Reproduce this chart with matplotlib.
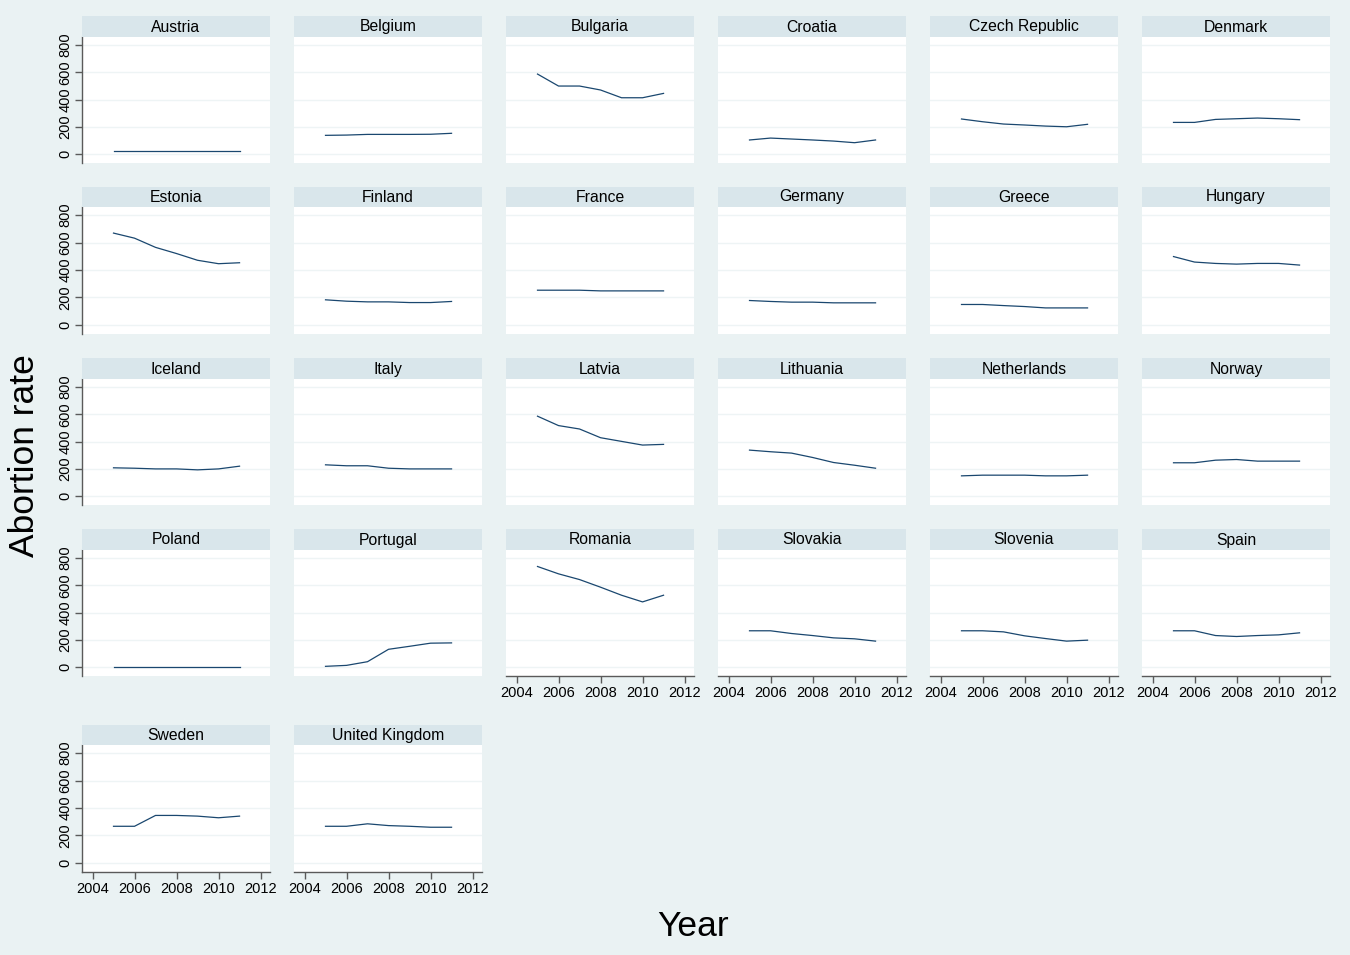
import matplotlib
matplotlib.use('Agg')
import matplotlib.pyplot as plt
from matplotlib.patches import Rectangle

plt.rcParams['font.family'] = ['Liberation Sans', 'DejaVu Sans']

years = [2005, 2006, 2007, 2008, 2009, 2010, 2011]

countries = ["Austria", "Belgium", "Bulgaria", "Croatia", "Czech Republic", "Denmark",
             "Estonia", "Finland", "France", "Germany", "Greece", "Hungary",
             "Iceland", "Italy", "Latvia", "Lithuania", "Netherlands", "Norway",
             "Poland", "Portugal", "Romania", "Slovakia", "Slovenia", "Spain",
             "Sweden", "United Kingdom"]

austria = [20, 20, 20, 20, 20, 20, 20]
belgium = [137, 139, 144, 144, 144, 145, 152]
bulgaria = [587, 499, 499, 470, 413, 413, 445]
croatia = [103, 117, 110, 103, 95, 83, 103]
czech = [257, 237, 220, 213, 205, 200, 218]
denmark = [232, 232, 254, 259, 264, 259, 252]
estonia = [669, 632, 565, 520, 471, 446, 453]
finland = [183, 173, 168, 168, 163, 163, 171]
france = [253, 253, 253, 248, 248, 248, 248]
germany = [178, 171, 166, 166, 161, 161, 161]
greece = [149, 149, 141, 134, 124, 124, 124]
hungary = [498, 458, 448, 443, 448, 448, 436]
iceland = [207, 204, 199, 199, 192, 199, 219]
italy = [229, 222, 222, 204, 199, 199, 199]
latvia = [586, 517, 492, 428, 401, 374, 379]
lithuania = [337, 325, 315, 283, 246, 226, 204]
netherlands = [148, 153, 153, 153, 148, 148, 153]
norway = [244, 244, 263, 268, 256, 256, 256]
poland = [0, 0, 0, 0, 0, 0, 0]
portugal = [5, 12, 39, 130, 152, 175, 177]
romania = [738, 684, 642, 586, 527, 478, 527]
slovakia = [266, 266, 246, 231, 214, 207, 190]
slovenia = [266, 266, 258, 229, 209, 190, 197]
spain = [266, 266, 231, 224, 231, 236, 251]
sweden = [267, 267, 346, 346, 341, 329, 341]
uk = [267, 267, 285, 272, 267, 260, 260]

series = [austria, belgium, bulgaria, croatia, czech, denmark,
          estonia, finland, france, germany, greece, hungary,
          iceland, italy, latvia, lithuania, netherlands, norway,
          poland, portugal, romania, slovakia, slovenia, spain,
          sweden, uk]

yticks = [0, 200, 400, 600, 800]
xticks = [2004, 2006, 2008, 2010, 2012]

W, H = 1350, 955
BG = '#EAF2F3'
STRIP = '#D9E6EB'
LINE = '#1A476F'
AXC = '#5a5a5a'
GRID = '#EEF4F5'

fig = plt.figure(figsize=(W / 100, H / 100), dpi=100, facecolor=BG)

rows_px = [(16, 37, 163), (187, 207, 334), (358, 379, 505), (529, 550, 676), (725, 745, 872)]
col_left0 = 82
col_step = 212
col_w = 188

ncols = 6
n = len(countries)
for i, (name, vals) in enumerate(zip(countries, series)):
    r, c = divmod(i, ncols)
    st, pt, pb = rows_px[r]
    left = col_left0 + c * col_step
    # strip
    fig.patches.append(Rectangle((left / W, 1 - pt / H), col_w / W, (pt - st) / H,
                                 transform=fig.transFigure, facecolor=STRIP,
                                 edgecolor='none', zorder=1))
    fig.text((left + col_w / 2) / W, 1 - (pt - 5.5) / H, name,
             ha='center', va='baseline', fontsize=11.3, color='black')
    ax = fig.add_axes([left / W, 1 - pb / H, col_w / W, (pb - pt) / H])
    ax.set_facecolor('white')
    ax.plot(years, vals, color=LINE, lw=0.9)
    ax.set_xlim(2003.5, 2012.45)
    ax.set_ylim(-66, 859)
    for yv in yticks:
        ax.axhline(yv, color=GRID, lw=1.0, zorder=0)
    for s in ax.spines.values():
        s.set_visible(False)
    show_y = (c == 0)
    below = i + ncols
    show_x = below >= n
    ax.set_yticks(yticks)
    ax.set_xticks(xticks)
    if show_y:
        ax.spines['left'].set_visible(True)
        ax.spines['left'].set_color(AXC)
        ax.spines['left'].set_linewidth(1.0)
        ax.tick_params(axis='y', direction='out', length=5, width=1, color=AXC,
                       labelsize=10.5, pad=2)
        ax.set_yticklabels([str(v) for v in yticks], rotation=90, va='center')
    else:
        ax.tick_params(axis='y', left=False, labelleft=False)
    if show_x:
        ax.spines['bottom'].set_visible(True)
        ax.spines['bottom'].set_color(AXC)
        ax.spines['bottom'].set_linewidth(1.0)
        ax.tick_params(axis='x', direction='out', length=5, width=1, color=AXC,
                       labelsize=10.5, pad=2)
        ax.set_xticklabels([str(v) for v in xticks])
    else:
        ax.tick_params(axis='x', bottom=False, labelbottom=False)

fig.text(25 / W, 1 - 456 / H, 'Abortion rate', rotation=90, ha='center', va='center',
         fontsize=25.5, color='black')
fig.text(693 / W, 1 - 926 / H, 'Year', ha='center', va='center',
         fontsize=25.5, color='black')

fig.savefig('out.png', dpi=100, facecolor=BG)
